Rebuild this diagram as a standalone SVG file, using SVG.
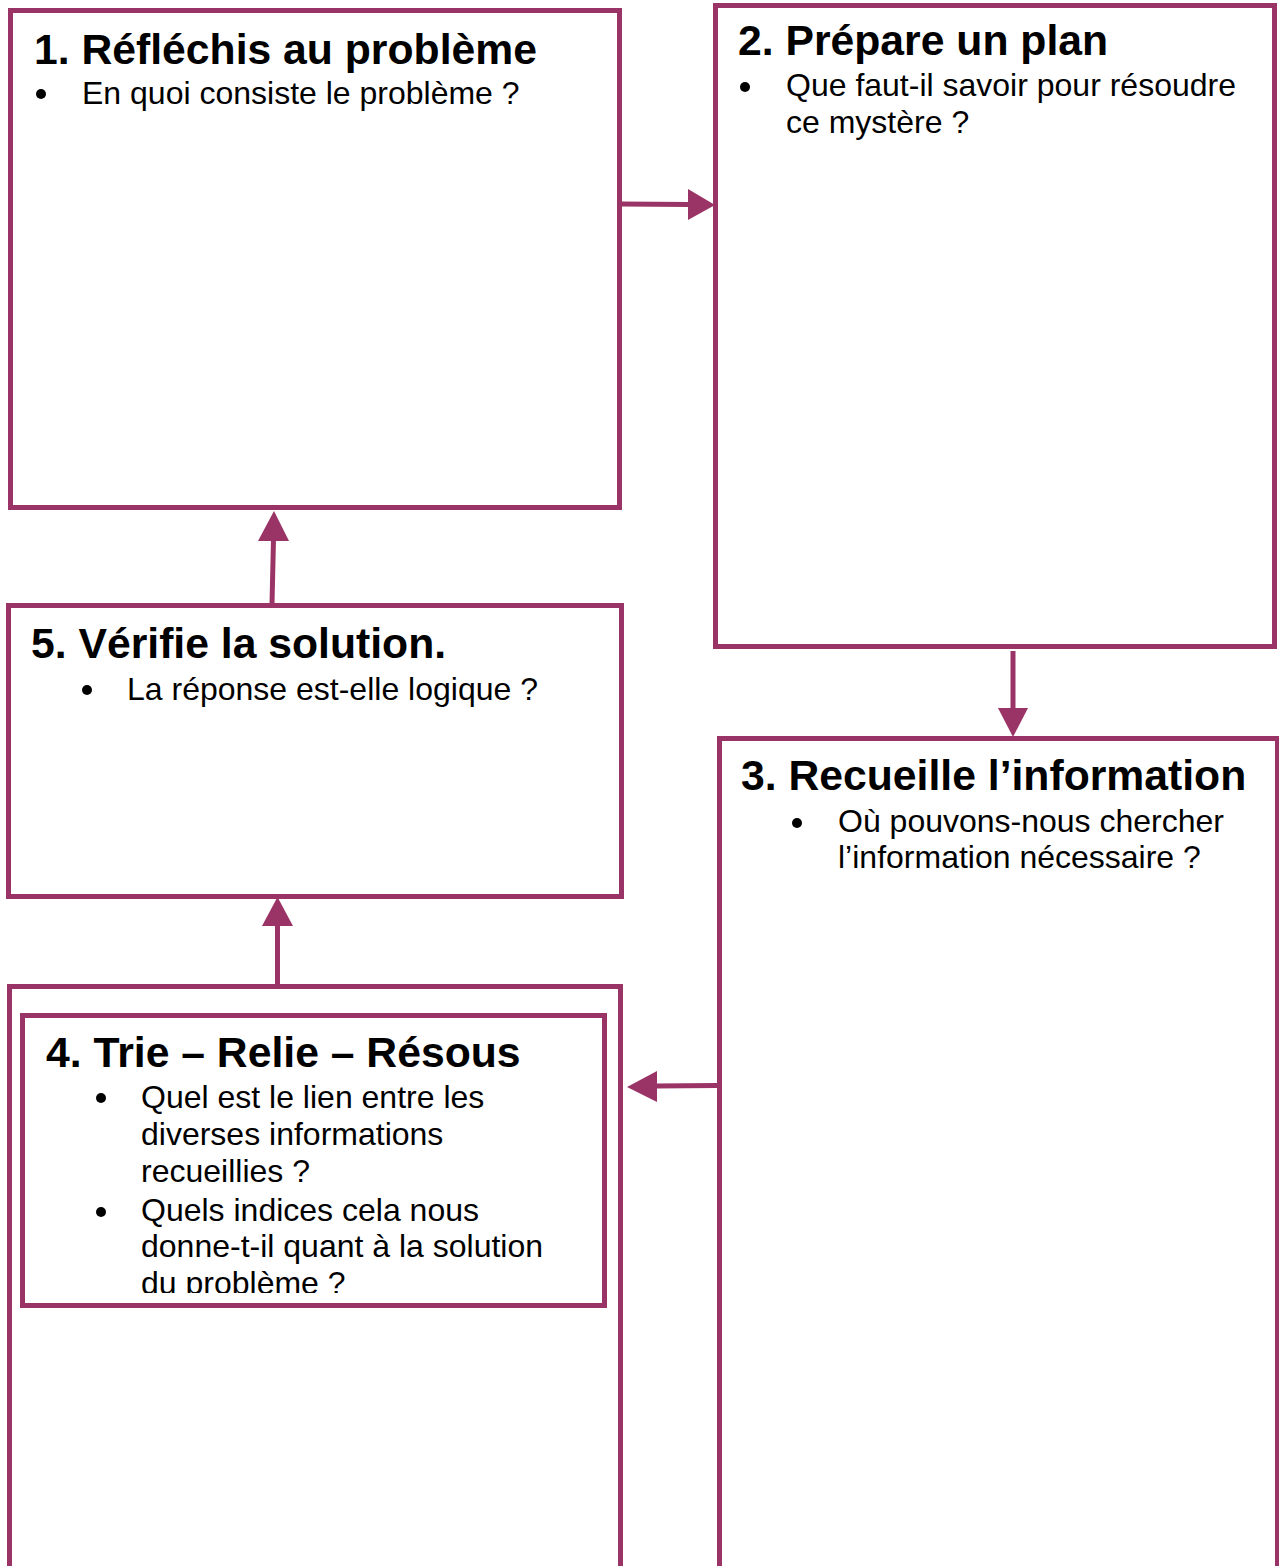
<svg xmlns="http://www.w3.org/2000/svg" width="1279" height="1566" viewBox="0 0 1279 1566">
<style>
.box{fill:#fff;stroke:#9b3466;stroke-width:5}
.ln{stroke:#9b3466;stroke-width:5;fill:none}
.hd{fill:#9b3466}
.t{font-family:"Liberation Sans",Arial,sans-serif;font-weight:bold;font-size:42.7px;fill:#000}
.b{font-family:"Liberation Sans",Arial,sans-serif;font-size:32px;fill:#000}
.dot{fill:#000}
</style>
<defs>
<clipPath id="c4"><rect x="22" y="1015" width="583" height="278"/></clipPath>
</defs>
<rect width="1279" height="1566" fill="#fff"/>
<g id="node1">
<rect class="box" x="10.5" y="10.5" width="609" height="497"/>
<text class="t" x="34" y="64">1. Réfléchis au problème</text>
<circle class="dot" cx="41" cy="94" r="5"/>
<text class="b" x="82" y="104">En quoi consiste le problème ?</text>
</g>
<g id="node2">
<rect class="box" x="715.5" y="5.5" width="559" height="641"/>
<text class="t" x="738" y="55">2. Prépare un plan</text>
<circle class="dot" cx="745" cy="87" r="5"/>
<text class="b" x="786" y="96">Que faut-il savoir pour résoudre</text>
<text class="b" x="786" y="133">ce mystère ?</text>
</g>
<g id="node3">
<rect class="box" x="719.5" y="738.5" width="558" height="840"/>
<text class="t" x="741" y="790">3. Recueille l’information</text>
<circle class="dot" cx="797" cy="823" r="5"/>
<text class="b" x="838" y="832">Où pouvons-nous chercher</text>
<text class="b" x="838" y="868">l’information nécessaire ?</text>
</g>
<g id="node4">
<rect class="box" x="9.5" y="986.5" width="611" height="600"/>
<rect class="box" x="22.5" y="1015.5" width="582" height="290"/>
<g clip-path="url(#c4)">
<text class="t" x="46" y="1067">4. Trie – Relie – Résous</text>
<circle class="dot" cx="101" cy="1098" r="5"/>
<text class="b" x="141" y="1108">Quel est le lien entre les</text>
<text class="b" x="141" y="1145">diverses informations</text>
<text class="b" x="141" y="1182">recueillies ?</text>
<circle class="dot" cx="101" cy="1212" r="5"/>
<text class="b" x="141" y="1221">Quels indices cela nous</text>
<text class="b" x="141" y="1257">donne-t-il quant à la solution</text>
<text class="b" x="141" y="1294">du problème ?</text>
</g>
</g>
<g id="node5">
<rect class="box" x="8.5" y="605.5" width="613" height="291"/>
<text class="t" x="31" y="658">5. Vérifie la solution.</text>
<circle class="dot" cx="87" cy="690" r="5"/>
<text class="b" x="127" y="700">La réponse est-elle logique ?</text>
</g>
<g id="connectors">
<line class="ln" x1="621" y1="204" x2="690" y2="204.5"/>
<polygon class="hd" points="688,189 715,205 688,220"/>
<line class="ln" x1="1013" y1="651" x2="1013" y2="710"/>
<polygon class="hd" points="998,708 1028,708 1013,737"/>
<line class="ln" x1="717" y1="1085.5" x2="655" y2="1086"/>
<polygon class="hd" points="657,1071 627,1087 657,1102"/>
<line class="ln" x1="272" y1="604" x2="273.5" y2="539"/>
<polygon class="hd" points="258,541 274,511 289,541"/>
<line class="ln" x1="277.5" y1="985" x2="277.5" y2="924"/>
<polygon class="hd" points="262,926 277.5,897 293,926"/>
</g>
</svg>
